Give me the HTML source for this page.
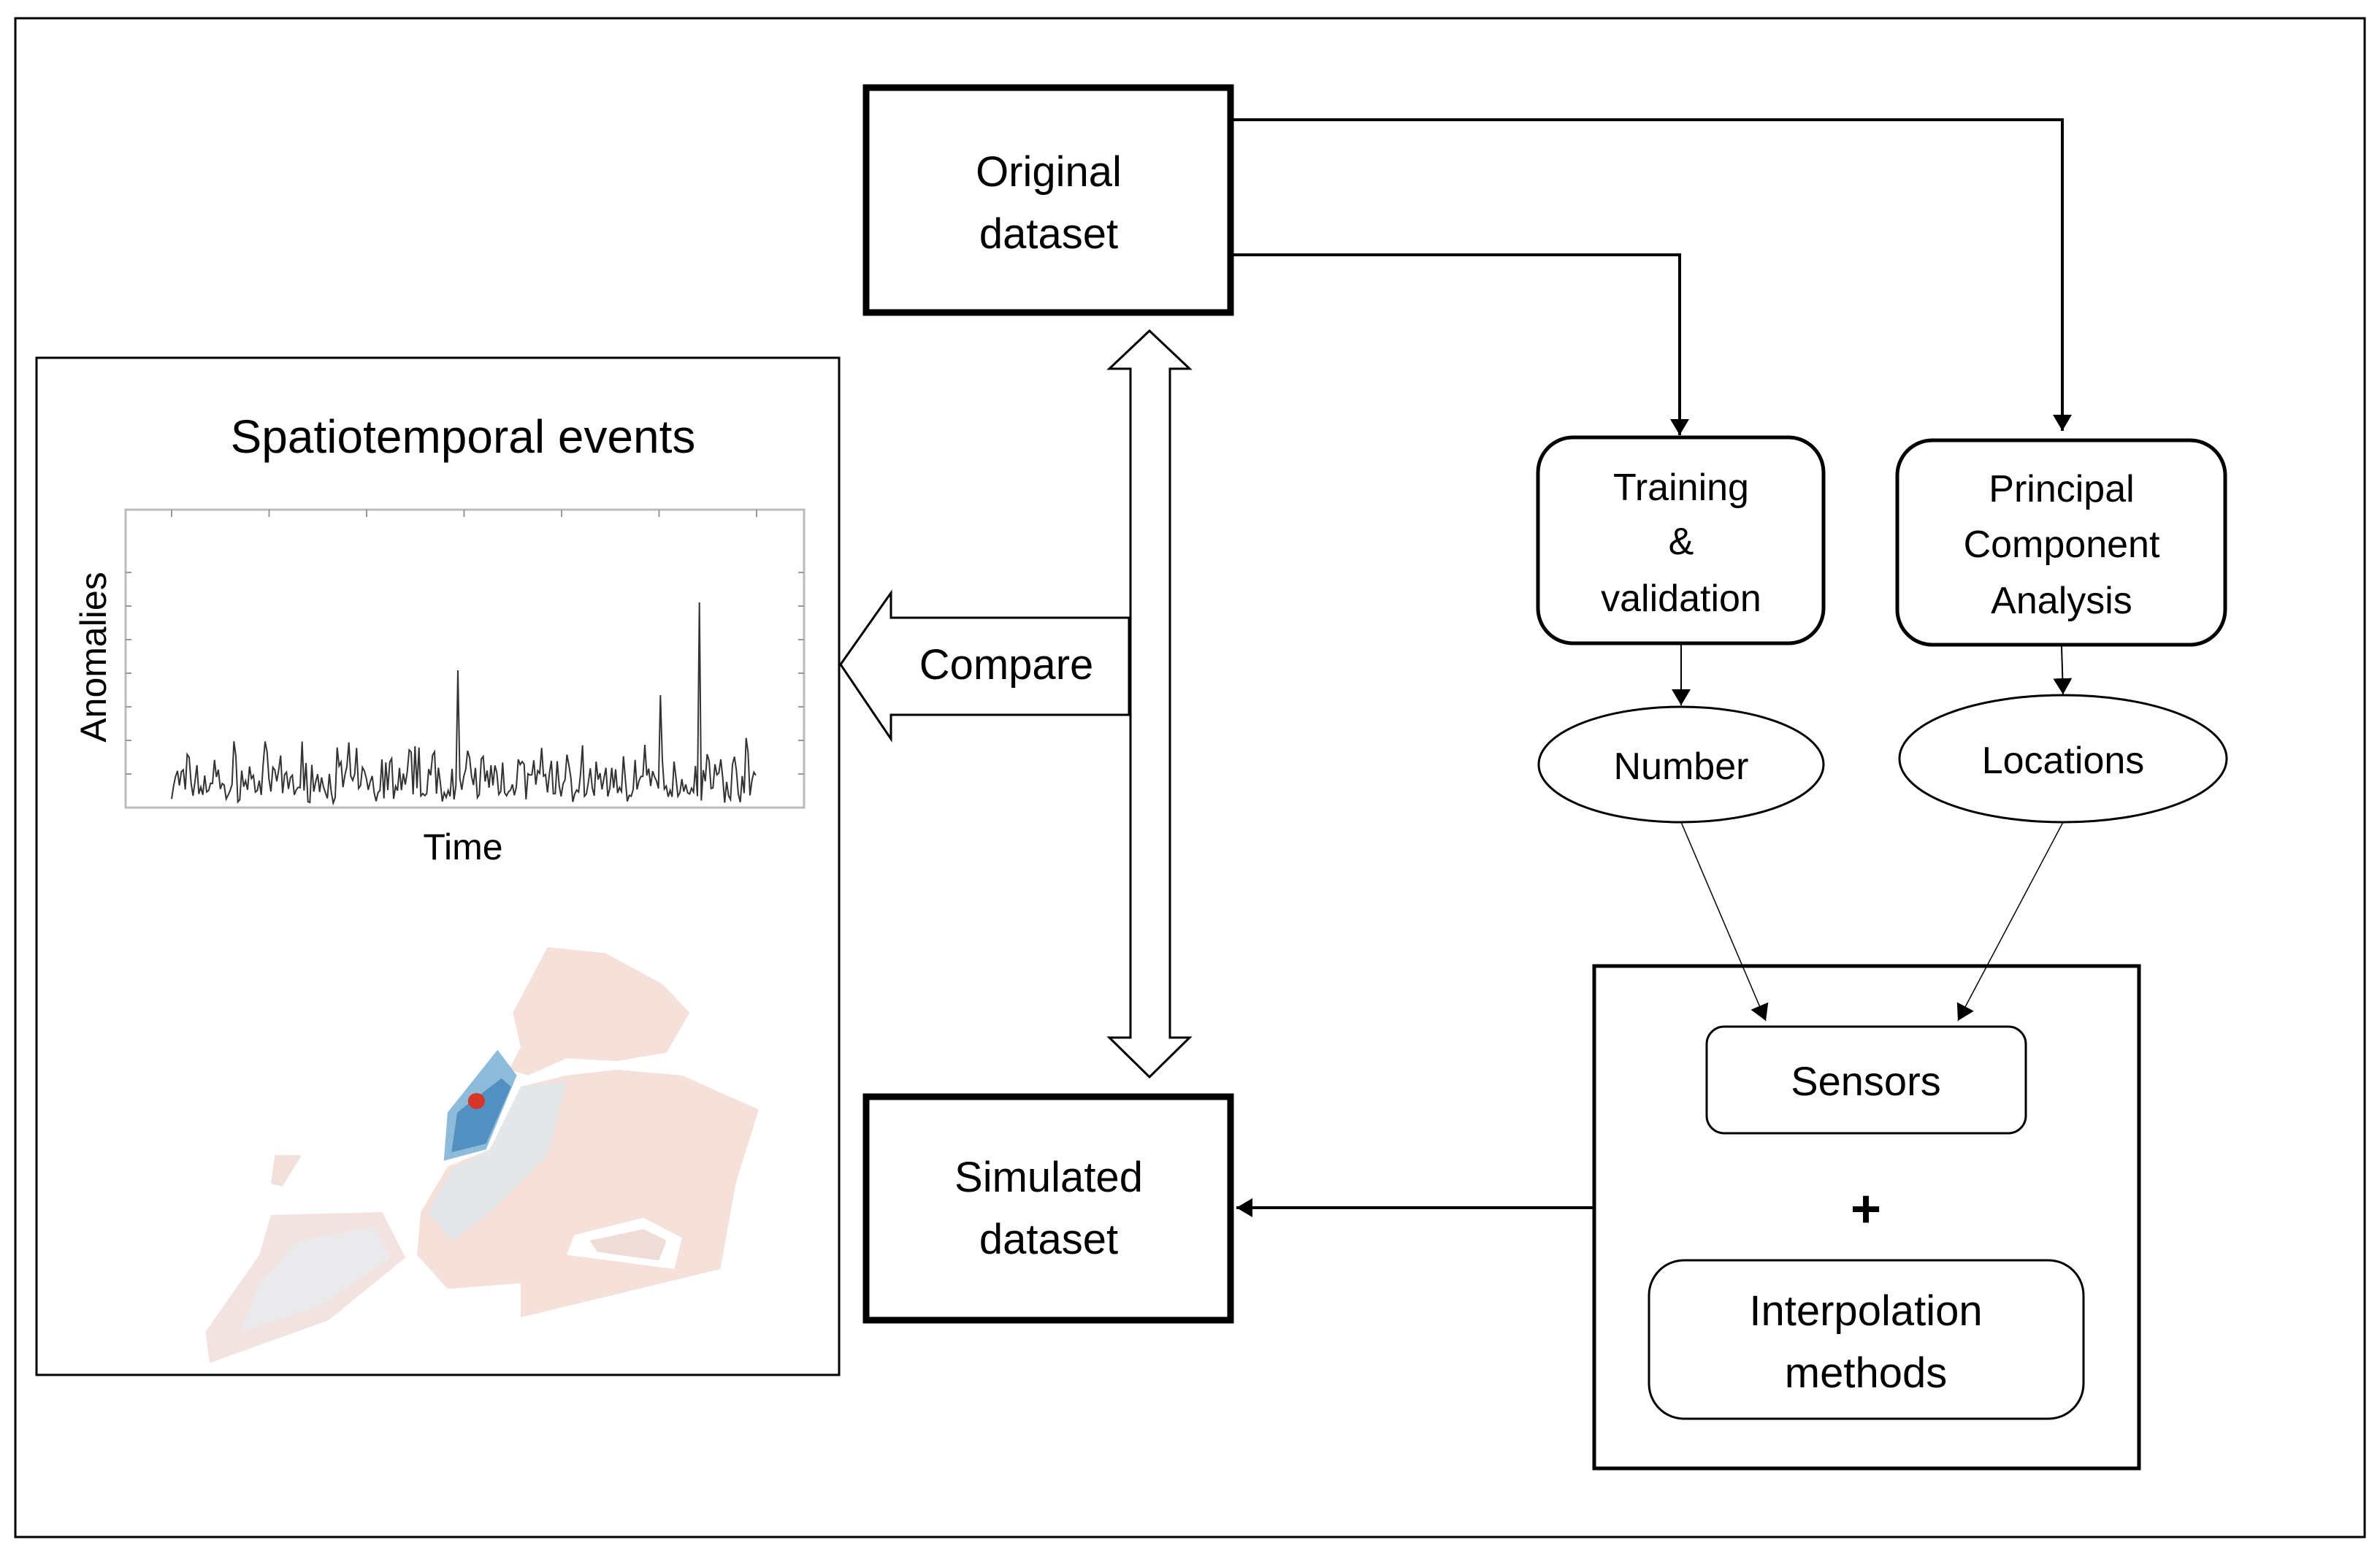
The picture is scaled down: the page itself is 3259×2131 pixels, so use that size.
<!DOCTYPE html>
<html><head><meta charset="utf-8"><style>
html,body{margin:0;padding:0;background:#fff}
svg{display:block}
text{font-family:"Liberation Sans",sans-serif;fill:#000}
</style></head><body>
<svg width="3259" height="2131" viewBox="0 0 3259 2131" xmlns="http://www.w3.org/2000/svg">
<defs>
<marker id="ahs" markerWidth="22" markerHeight="26" refX="22" refY="13" orient="auto" markerUnits="userSpaceOnUse"><path d="M0,0 L22,13 L0,26 z" fill="#000"/></marker>
</defs>
<rect x="21" y="25" width="3217" height="2080" fill="#fff" stroke="#000" stroke-width="3"/>
<!-- left panel -->
<rect x="50" y="490" width="1099" height="1393" fill="#fff" stroke="#000" stroke-width="3"/>
<text x="634" y="620" font-size="64" text-anchor="middle">Spatiotemporal events</text>
<rect x="172" y="698" width="929" height="408" fill="#fff" stroke="#bbb" stroke-width="3"/>
<g id="ticks" stroke="#999" stroke-width="2"></g>
<polyline id="series" fill="none" stroke="#333" stroke-width="2" points=""/>
<text x="0" y="0" font-size="50" text-anchor="middle" transform="translate(145,900) rotate(-90)">Anomalies</text>
<text x="634" y="1177" font-size="50" text-anchor="middle">Time</text>
<!-- map -->
<g transform="translate(250,1270) scale(0.526,0.39)">
<polygon fill="#f5e0da" points="950,70 1100,90 1250,200 1320,300 1260,440 1130,470 1000,460 900,520 850,500 880,420 860,300"/>
<polygon fill="#f5e0da" points="1000,520 1130,500 1300,520 1500,640 1440,900 1400,1200 880,1370 880,1250 690,1270 610,1150 620,1000 690,840 800,780 880,560"/>
<polygon fill="#dbe9ef" opacity="0.7" points="880,560 1000,540 950,800 800,1000 700,1100 640,1000 700,850 800,780"/>
<polygon fill="#fff" points="1020,1080 1200,1020 1300,1090 1280,1200 1000,1150"/>
<polygon fill="#f0dcd6" points="1060,1100 1200,1060 1260,1100 1240,1170 1080,1140"/>
<polygon fill="#8dbcdb" points="820,430 870,520 790,780 680,820 690,650"/>
<polygon fill="#3f82b9" opacity="0.75" points="830,530 855,560 790,760 700,790 715,650"/>
<ellipse cx="765" cy="610" rx="22" ry="28" fill="#d8352a"/>
<polygon fill="#f3e3e0" points="230,1010 520,1000 580,1160 380,1380 70,1530 60,1420 200,1150"/>
<polygon fill="#e5edf2" opacity="0.6" points="300,1100 500,1050 540,1160 360,1330 150,1420 200,1250"/>
<polygon fill="#f2e0dc" points="240,800 310,800 260,910 230,900"/>
</g>
<!-- original dataset -->
<rect x="1186" y="120" width="499" height="308" fill="#fff" stroke="#000" stroke-width="9"/>
<text x="1436" y="255" font-size="58" text-anchor="middle">Original</text>
<text x="1436" y="340" font-size="58" text-anchor="middle">dataset</text>
<!-- simulated dataset -->
<rect x="1186" y="1502" width="499" height="306" fill="#fff" stroke="#000" stroke-width="9"/>
<text x="1436" y="1632" font-size="58" text-anchor="middle">Simulated</text>
<text x="1436" y="1717" font-size="58" text-anchor="middle">dataset</text>
<!-- double arrow -->
<polygon fill="#fff" stroke="#000" stroke-width="3" points="1574,453 1629,505 1602,505 1602,1421 1629,1421 1574,1475 1519,1421 1548,1421 1548,505 1519,505"/>
<!-- compare arrow -->
<polygon fill="#fff" stroke="#000" stroke-width="3" points="1151,910 1220,812 1220,846 1546,846 1546,979 1220,979 1220,1012"/>
<text x="1378" y="930" font-size="58" text-anchor="middle">Compare</text>
<!-- connectors from original -->
<polyline fill="none" stroke="#000" stroke-width="4" points="1689,164 2824,164 2824,590" marker-end="url(#ahs)"/>
<polyline fill="none" stroke="#000" stroke-width="4" points="1689,349 2300,349 2300,596" marker-end="url(#ahs)"/>
<!-- training -->
<rect x="2106" y="599" width="391" height="282" rx="48" fill="#fff" stroke="#000" stroke-width="5"/>
<text x="2302" y="685" font-size="52" text-anchor="middle">Training</text>
<text x="2302" y="759" font-size="52" text-anchor="middle">&amp;</text>
<text x="2302" y="837" font-size="52" text-anchor="middle">validation</text>
<!-- PCA -->
<rect x="2598" y="603" width="449" height="280" rx="48" fill="#fff" stroke="#000" stroke-width="5"/>
<text x="2823" y="687" font-size="52" text-anchor="middle">Principal</text>
<text x="2823" y="763" font-size="52" text-anchor="middle">Component</text>
<text x="2823" y="840" font-size="52" text-anchor="middle">Analysis</text>
<line x1="2302" y1="883" x2="2302" y2="966" stroke="#000" stroke-width="2" marker-end="url(#ahs)"/>
<line x1="2823" y1="885" x2="2825" y2="951" stroke="#000" stroke-width="2" marker-end="url(#ahs)"/>
<ellipse cx="2302" cy="1047" rx="195" ry="79" fill="#fff" stroke="#000" stroke-width="3"/>
<text x="2302" y="1067" font-size="52" text-anchor="middle">Number</text>
<ellipse cx="2825" cy="1039" rx="224" ry="87" fill="#fff" stroke="#000" stroke-width="3"/>
<text x="2825" y="1059" font-size="52" text-anchor="middle">Locations</text>
<!-- big right box -->
<rect x="2183" y="1323" width="746" height="688" fill="#fff" stroke="#000" stroke-width="5"/>
<line x1="2302" y1="1126" x2="2418" y2="1398" stroke="#000" stroke-width="1.5" marker-end="url(#ahs)"/>
<line x1="2825" y1="1126" x2="2681" y2="1398" stroke="#000" stroke-width="1.5" marker-end="url(#ahs)"/>
<rect x="2337" y="1406" width="437" height="146" rx="24" fill="#fff" stroke="#000" stroke-width="3"/>
<text x="2555" y="1500" font-size="56" text-anchor="middle">Sensors</text>
<text x="2555" y="1680" font-size="72" font-weight="bold" text-anchor="middle">+</text>
<rect x="2258" y="1726" width="595" height="217" rx="48" fill="#fff" stroke="#000" stroke-width="3"/>
<text x="2555" y="1815" font-size="58" text-anchor="middle">Interpolation</text>
<text x="2555" y="1900" font-size="58" text-anchor="middle">methods</text>
<line x1="2181" y1="1654" x2="1693" y2="1654" stroke="#000" stroke-width="4" marker-end="url(#ahs)"/>
</svg>
<script>
(function(){
var pts=[],x0=235,x1=1035,n=300,seed=7;
function r(){seed=(seed*16807)%2147483647;return seed/2147483647;}
var spikes={};spikes[Math.round((627-x0)/(x1-x0)*n)]=918;spikes[Math.round((904-x0)/(x1-x0)*n)]=952;spikes[Math.round((958-x0)/(x1-x0)*n)]=825;
for(var i=0;i<=n;i++){var x=x0+(x1-x0)*i/n;var y=1100-r()*r()*85-r()*20;if(spikes[i])y=spikes[i];pts.push(x.toFixed(1)+","+y.toFixed(1));}
document.getElementById('series').setAttribute('points',pts.join(' '));
var g=document.getElementById('ticks'),s='';
for(var k=0;k<7;k++){var tx=235+k*133.5;s+='<line x1="'+tx+'" y1="698" x2="'+tx+'" y2="708"/>';}
for(var k=1;k<8;k++){var ty=1106-k*46;s+='<line x1="172" y1="'+ty+'" x2="180" y2="'+ty+'"/><line x1="1093" y1="'+ty+'" x2="1101" y2="'+ty+'"/>';}
g.innerHTML=s;
})();
</script>
</body></html>
